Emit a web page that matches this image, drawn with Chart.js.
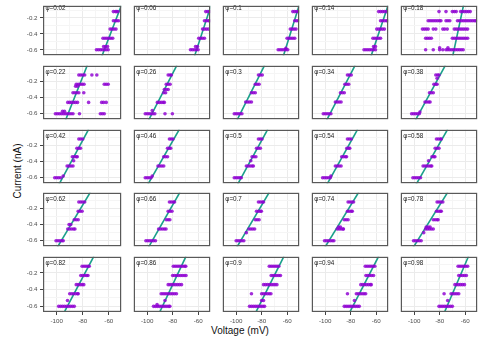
<!DOCTYPE html>
<html><head><meta charset="utf-8">
<script src="https://cdn.jsdelivr.net/npm/chart.js@4.4.1/dist/chart.umd.min.js"></script>
<style>
body{margin:0;background:#fff;}
#wrap{position:relative;width:480px;height:343px;overflow:hidden;background:#fff;font-family:"Liberation Sans",Arial,sans-serif;}
#wrap canvas{position:absolute;}
.ttl{position:absolute;font-size:10px;color:#111;white-space:nowrap;line-height:1;}
</style></head>
<body><div id="wrap">
<div class="ttl" id="xt" style="left:240px;top:331px;transform:translate(-50%,-50%);">Voltage (mV)</div>
<div class="ttl" id="yt" style="left:18px;top:171px;transform:translate(-50%,-50%) rotate(-90deg);">Current (nA)</div>
</div>
<script>
// ---- data (current level, voltages at that level) ----
const phiLabels = ['0.02','0.06','0.1','0.14','0.18','0.22','0.26','0.3','0.34','0.38','0.42','0.46','0.5','0.54','0.58','0.62','0.66','0.7','0.74','0.78','0.82','0.86','0.9','0.94','0.98'];
const xTickLabels = [-100, -80, -60];
const yTickLabels = [-0.2, -0.4, -0.6];

const pts_002 = [[-0.12,[-56.5,-55,-54,-53]],[-0.235,[-56.5,-55,-53.8,-52.5]],[-0.34,[-59,-57.5,-56,-54.5]],[-0.455,[-64.5,-63,-61.5,-60,-58.5,-57]],[-0.56,[-64,-62.5,-61]],[-0.6,[-69.5,-68,-66.5,-65,-63.5,-62,-60.5]]];
const pts_006 = [[-0.12,[-54,-52.5,-51.2]],[-0.235,[-55,-53.5,-52,-51]],[-0.34,[-56.5,-55,-53.5,-52]],[-0.455,[-59.5,-58,-56.5,-55]],[-0.56,[-62,-60.5]],[-0.6,[-66,-64.5,-63,-61.5,-60]]];
const pts_010 = [[-0.12,[-55.5,-54,-52.5,-51.2]],[-0.235,[-54,-52.5,-51.2]],[-0.34,[-57.5,-56,-54.5,-53]],[-0.455,[-60,-58.5,-57,-55.5,-54]],[-0.58,[-61]],[-0.6,[-67,-65.5,-64,-62.5,-61,-59.5]]];
const pts_014 = [[-0.12,[-58,-56.5,-55,-53.5,-52]],[-0.235,[-56.5,-55,-53.5,-52,-51]],[-0.34,[-59.5,-58,-56.5,-55,-53.5]],[-0.455,[-62.5,-61,-59.5,-58,-56.5]],[-0.56,[-62,-60.5]],[-0.6,[-69.5,-68,-66.5,-65,-63.5,-62,-60.5]]];
const pts_018 = [[-0.12,[-80.5,-75,-70,-68.5,-67,-63.5,-62,-60.5,-59,-57.5,-56]],[-0.235,[-89,-87.5,-86,-84.5,-83,-81.5,-80,-79,-75,-73.5,-72,-66,-64.5,-63,-61.5,-60,-58.5,-57,-55.5,-54,-52.5,-51.5]],[-0.34,[-93.5,-92,-90.5,-89,-85,-83,-77.5,-76,-74,-68.5,-67,-65.5,-64,-62.5,-61,-59.5,-58]],[-0.455,[-91,-89.5,-88,-86.5,-70,-68.5,-67,-65.5,-64,-62.5,-61,-59.5,-58]],[-0.575,[-80,-73.5]],[-0.6,[-91,-85,-80,-77.5,-75,-73.5,-72,-70.5,-69,-67.5,-66,-64.5,-63,-61.5]]];
const pts_022 = [[-0.12,[-83,-81.5,-80,-78.5,-73,-69.2]],[-0.235,[-85,-83.5,-82,-80.5,-79,-63.5,-62,-60.5]],[-0.26,[-85.5,-84]],[-0.34,[-87.5,-86,-84.5,-83,-79.2]],[-0.46,[-91.5,-90,-88.5,-87,-85.5,-84,-75.5,-65.5,-64,-62]],[-0.57,[-95.5,-94]],[-0.6,[-101,-99.5,-98,-96.5,-95,-93.5,-92,-90.5,-89,-87.5,-82.5,-66.5,-65,-63.5]]];
const pts_026 = [[-0.12,[-83.5,-82,-81]],[-0.235,[-85,-83.5,-82]],[-0.3,[-86.5,-85,-83.5]],[-0.34,[-87,-85.5]],[-0.46,[-92,-90.5,-89,-87.5,-86.5]],[-0.56,[-96]],[-0.6,[-101.5,-100,-98.5,-97,-95.5,-94,-86,-80.2]]];
const pts_030 = [[-0.12,[-82.5,-81,-79.5]],[-0.235,[-85,-83.5,-82]],[-0.34,[-88,-86.5,-85]],[-0.455,[-92.5,-91,-89.5,-88]],[-0.6,[-101.5,-100,-98.5,-97,-95.5]]];
const pts_034 = [[-0.12,[-82.5,-81,-79.5]],[-0.235,[-84.5,-83,-81.5]],[-0.34,[-88,-86.5,-85]],[-0.455,[-92,-90.5,-89,-87.5]],[-0.6,[-101.5,-100,-98.5,-97,-95.5]]];
const pts_038 = [[-0.12,[-83,-81.5,-80.5]],[-0.16,[-82]],[-0.235,[-84.5,-83,-82]],[-0.34,[-88,-86.5,-85]],[-0.455,[-91.5,-90,-88.5,-87.5]],[-0.58,[-95.5]],[-0.6,[-102,-100.5,-99,-97.5,-96]]];
const pts_042 = [[-0.12,[-83,-81.5,-80]],[-0.235,[-84.5,-83,-81.7]],[-0.34,[-88,-86.5,-85,-84.2]],[-0.39,[-87]],[-0.455,[-92,-90.5,-89,-87.5]],[-0.58,[-95]],[-0.6,[-101.5,-100,-98.5,-97]]];
const pts_046 = [[-0.12,[-82.5,-81,-79.7]],[-0.235,[-84,-82.5,-81.5]],[-0.34,[-87,-85.5,-84]],[-0.455,[-91.5,-90,-88.5,-87]],[-0.58,[-96]],[-0.6,[-101.5,-100,-98.5,-97]]];
const pts_050 = [[-0.12,[-82.5,-81,-79.7]],[-0.235,[-84,-82.5,-81]],[-0.34,[-87.5,-86,-84.5]],[-0.39,[-88.5]],[-0.455,[-92,-90.5,-89,-87.5,-86.5]],[-0.6,[-101.5,-100,-98.5,-97,-96]]];
const pts_054 = [[-0.12,[-82.5,-81,-79.5]],[-0.235,[-83,-81.5,-80.7]],[-0.34,[-87,-85.5,-84,-83.2]],[-0.455,[-92,-90.5,-89,-87.5]],[-0.58,[-95.5]],[-0.6,[-102,-100.5,-99,-97.5,-96]]];
const pts_058 = [[-0.12,[-82.5,-81,-79.5,-78.7]],[-0.235,[-83.5,-82,-80.5]],[-0.34,[-86,-84.5,-83.7]],[-0.39,[-88.7]],[-0.455,[-93,-91.5,-90,-88.5,-87,-86.2]],[-0.6,[-101,-99.5,-98,-96.5,-95]]];
const pts_062 = [[-0.12,[-83,-81.5,-80,-78.5]],[-0.235,[-83.5,-82,-80.5]],[-0.34,[-86.5,-85,-83.5]],[-0.4,[-90.5,-89.2]],[-0.455,[-91.5,-90,-88.5,-87,-86]],[-0.6,[-100.5,-99,-97.5,-96,-95]]];
const pts_066 = [[-0.12,[-82.5,-81,-79.5,-78.5]],[-0.235,[-83.5,-82,-80.5]],[-0.34,[-85,-83.5,-82.2]],[-0.455,[-91,-89.5,-88,-86.5,-85.2]],[-0.6,[-101,-99.5,-98,-96.5,-95,-93.5]]];
const pts_070 = [[-0.12,[-82.5,-81,-79.5,-78.5]],[-0.235,[-84,-82.5,-81,-80.2]],[-0.34,[-85,-83.5,-82]],[-0.455,[-90,-88.5,-87,-85.5]],[-0.5,[-92]],[-0.6,[-100,-98.5,-97,-95.5,-94]]];
const pts_074 = [[-0.12,[-82,-80.5,-79,-77.7]],[-0.235,[-82.5,-81,-79.5,-78.7]],[-0.34,[-85,-83.5,-82]],[-0.43,[-89.5,-88]],[-0.455,[-90.5,-89,-87.5,-86,-85.7]],[-0.6,[-100.5,-99,-97.5,-96,-94.5,-93.2]]];
const pts_078 = [[-0.12,[-82,-80.5,-79,-77.5]],[-0.235,[-82.5,-81,-79.5,-78.7]],[-0.34,[-85,-83.5,-82,-81.2]],[-0.43,[-90.5,-89,-87.5]],[-0.455,[-91,-89.5,-88,-86.5,-85]],[-0.5,[-92.5]],[-0.6,[-100.5,-99,-97.5,-96,-94.5]]];
const pts_082 = [[-0.12,[-80.5,-79,-77.5,-76,-75]],[-0.23,[-81.5,-80,-78.5,-77,-76]],[-0.34,[-85,-83.5,-82,-80.5,-79.2]],[-0.45,[-90,-88.5,-87,-85.5,-84,-83.5]],[-0.53,[-91.7]],[-0.6,[-98.5,-97,-95.5,-94,-92.5,-91,-89.5,-88,-86.5]]];
const pts_086 = [[-0.12,[-79.5,-78,-76.5,-75,-73.5,-72,-70.5,-69.7]],[-0.23,[-80,-78.5,-77,-75.5,-74,-72.5,-71,-69.5]],[-0.34,[-83.5,-82,-80.5,-79,-77.5,-76,-74.5,-73]],[-0.45,[-89,-87.5,-86,-84.5,-83,-81.5,-80,-78.5,-77]],[-0.53,[-86]],[-0.58,[-92.2]],[-0.6,[-95,-93.5,-92,-90.5,-89,-87.5,-86,-84.5,-83,-82.2]]];
const pts_090 = [[-0.12,[-74,-72.5,-71,-69.5,-68,-66.5]],[-0.23,[-72.5,-71,-69.5,-68,-66.5,-65.2]],[-0.34,[-78.5,-77,-75.5,-74,-72.5,-71,-69.5,-68]],[-0.45,[-88,-80,-78.5,-77,-75.5,-74,-72.7]],[-0.53,[-80,-78.5]],[-0.6,[-89.5,-88,-86.5,-85,-83.5,-82,-80.5,-79,-77.7]]];
const pts_094 = [[-0.12,[-68.5,-67,-65.5,-64,-62.5,-61]],[-0.23,[-68,-66.5,-65,-63.5,-62]],[-0.34,[-72,-70.5,-69,-67.5,-66,-64.5,-63.8]],[-0.45,[-82.5,-75.5,-74,-72.5,-71,-69.5,-68.2]],[-0.53,[-77]],[-0.6,[-85,-83.5,-82,-80.5,-79,-77.5,-76,-74.5,-73.2]]];
const pts_098 = [[-0.12,[-65.5,-64,-62.5,-61,-59.5,-58]],[-0.23,[-65,-63.5,-62,-60.5,-59]],[-0.34,[-68,-66.5,-65,-63.5,-62,-60.5]],[-0.45,[-76.5,-71,-69.5,-68,-66.5,-65]],[-0.53,[-73.7]],[-0.6,[-80.5,-79,-77.5,-76,-74.5,-73,-71.5,-70]]];

const panelPoints = [pts_002,pts_006,pts_010,pts_014,pts_018,pts_022,pts_026,pts_030,pts_034,pts_038,pts_042,pts_046,pts_050,pts_054,pts_058,pts_062,pts_066,pts_070,pts_074,pts_078,pts_082,pts_086,pts_090,pts_094,pts_098];

// fitted line: voltage at current -0.7 nA and at 0 nA
const fitCurrents = [-0.7, 0];
const fitVoltLow  = [-65.8,-63.2,-63.4,-64.4,-70.0,-93.7,-99.5,-100.0,-99.5,-99.7,-98.8,-100.1,-99.5,-99.2,-99.1,-100.2,-99.6,-100.2,-100.9,-101.4,-95.2,-91.1,-85.5,-81.7,-77.0];
const fitVoltHigh = [-49.4,-49.0,-49.7,-49.7,-60.7,-76.5,-76.7,-77.7,-76.5,-75.5,-75.5,-74.7,-75.2,-74.5,-73.7,-74.2,-74.3,-74.0,-73.7,-73.7,-71.5,-69.5,-62.5,-58.0,-57.3];

// ---- layout ----
const colLeft = [43,132,221,310,399];
const rowTop = [4,64,128,191,255];
const rowH = [53,57,57,57,57];
const panelW = 80;
const rowYMax = [-0.047,-0.006,-0.006,-0.006,-0.006];
const Y_MIN = -0.668, X_MIN = -110.5, X_MAX = -50.5;
const xGrid = [-110,-100,-90,-80,-70,-60];
const yGrid = [-0.6,-0.5,-0.4,-0.3,-0.2,-0.1];
const FONT = '"Liberation Sans", Arial, sans-serif';

const isMajorX = v => xTickLabels.some(t => Math.abs(t - v) < 1e-6);
const isMajorY = v => yTickLabels.some(t => Math.abs(t - v) < 1e-6);

const framePlugin = {
  id: 'frame',
  afterDraw(chart) {
    const a = chart.chartArea, ctx = chart.ctx;
    ctx.save();
    ctx.strokeStyle = '#595959';
    ctx.lineWidth = 1.2;
    ctx.strokeRect(a.left + 0.6, a.top + 0.6, a.right - a.left - 1.2, a.bottom - a.top - 1.2);
    ctx.restore();
  }
};
const labelPlugin = {
  id: 'phiLabel',
  afterDatasetsDraw(chart, args, opts) {
    const a = chart.chartArea, ctx = chart.ctx;
    const y = chart.scales.y.getPixelForValue(-0.08);
    ctx.save();
    ctx.font = '6.3px ' + FONT;
    ctx.fillStyle = '#1a1a1a';
    ctx.textBaseline = 'middle';
    ctx.textAlign = 'left';
    ctx.fillText('\u03C6=' + opts.text, a.left + 2.5, y);
    ctx.restore();
  }
};

const wrap = document.getElementById('wrap');
phiLabels.forEach((phi, idx) => {
  const r = Math.floor(idx / 5), c = idx % 5;
  const leftPad = c === 0 ? 43 : 0;
  const bottomPad = r === 4 ? 24 : 0;
  const cv = document.createElement('canvas');
  const w = panelW + leftPad, h = rowH[r] + bottomPad;
  cv.width = w; cv.height = h;
  cv.style.left = (colLeft[c] - leftPad) + 'px';
  cv.style.top = rowTop[r] + 'px';
  cv.style.width = w + 'px'; cv.style.height = h + 'px';
  wrap.appendChild(cv);

  const pts = [];
  panelPoints[idx].forEach(([cur, volts]) => volts.forEach(v => pts.push({x: v, y: cur})));
  const fit = [{x: fitVoltLow[idx], y: fitCurrents[0]}, {x: fitVoltHigh[idx], y: fitCurrents[1]}];

  new Chart(cv, {
    type: 'scatter',
    data: { datasets: [
      { data: pts, backgroundColor: 'rgba(143,0,210,0.82)', borderWidth: 0, pointRadius: 1.8, pointHoverRadius: 1.8, clip: 0, order: 1 },
      { type: 'line', data: fit, borderColor: '#19a08a', borderWidth: 1.6, pointRadius: 0, fill: false, clip: 0, order: 2 }
    ]},
    options: {
      responsive: false, animation: false, devicePixelRatio: 1, events: [],
      layout: { padding: 0 },
      plugins: { legend: { display: false }, tooltip: { enabled: false }, phiLabel: { text: phi } },
      scales: {
        x: {
          type: 'linear', min: X_MIN, max: X_MAX,
          afterBuildTicks: s => { s.ticks = xGrid.map(v => ({value: v})); },
          afterFit: s => { s.height = bottomPad; s.paddingLeft = 0; s.paddingRight = 0; s.paddingTop = 0; s.paddingBottom = 0; },
          border: { display: false },
          grid: {
            color: ctx => isMajorX(ctx.tick.value) ? '#ebebeb' : '#f5f5f5',
            lineWidth: 1,
            drawTicks: r === 4, tickLength: 3,
            tickColor: ctx => isMajorX(ctx.tick.value) ? '#444' : 'rgba(0,0,0,0)'
          },
          ticks: {
            display: r === 4, autoSkip: false, maxRotation: 0, padding: 3,
            color: '#4d4d4d', font: { size: 6.2, family: FONT },
            callback: v => isMajorX(v) ? String(Math.round(v)) : ''
          }
        },
        y: {
          type: 'linear', min: Y_MIN, max: rowYMax[r],
          afterBuildTicks: s => { s.ticks = yGrid.map(v => ({value: v})); },
          afterFit: s => { s.width = leftPad; s.paddingLeft = 0; s.paddingRight = 0; s.paddingTop = 0; s.paddingBottom = 0; },
          border: { display: false },
          grid: {
            color: ctx => isMajorY(ctx.tick.value) ? '#ebebeb' : '#f5f5f5',
            lineWidth: 1,
            drawTicks: c === 0, tickLength: 3,
            tickColor: ctx => isMajorY(ctx.tick.value) ? '#444' : 'rgba(0,0,0,0)'
          },
          ticks: {
            display: c === 0, autoSkip: false, padding: 2.5,
            color: '#4d4d4d', font: { size: 6.2, family: FONT },
            callback: v => isMajorY(v) ? v.toFixed(1) : ''
          }
        }
      }
    },
    plugins: [framePlugin, labelPlugin]
  });
});
</script>
</body></html>
